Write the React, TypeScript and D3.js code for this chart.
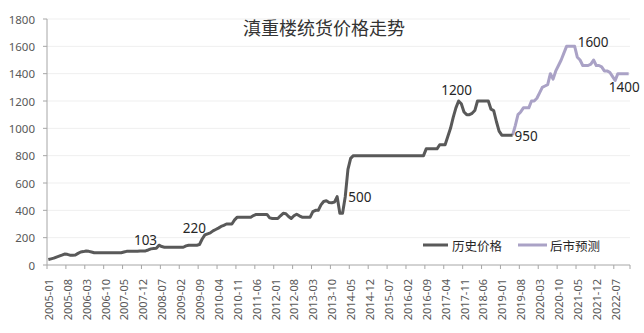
import React from 'react';
import * as d3 from 'd3';

// ---- data ----
const startYear = 2005;
const monthCount = 216; // 2005-01 .. 2022-12

// 历史价格 (2005-01 .. 2019-05)
const history: number[] = [
  40, 45, 50, 58, 65, 72, 80, 78, 72, 72, 73, 85, 95, 98, 102, 100, 95, 90,
  90, 90, 90, 90, 90, 90, 90, 90, 90, 90,
  95,
  100, 100, 100, 100, 100,
  103, 103, 103,
  110, 118, 120, 122, 145, 135,
  130, 130, 130, 130, 130, 130, 130, 130,
  140,
  145, 145, 145, 145,
  150,
  190, 220, 228, 235, 250, 260, 270, 282, 290, 300, 300, 300,
  330, 350, 350, 350, 350, 350, 350,
  362, 370, 370, 370, 370, 370,
  345, 340, 340, 340,
  360, 378, 375, 355, 340, 360, 372, 360,
  350, 350, 350, 350,
  390, 400, 400, 440, 465, 470, 458, 455, 460, 500, 378, 378,
  500, 700, 780,
  800, 800, 800, 800, 800, 800, 800, 800, 800, 800, 800, 800, 800, 800,
  800, 800, 800, 800, 800, 800, 800, 800, 800, 800, 800, 800, 800,
  850, 850, 850, 850, 850,
  880, 880, 880,
  940, 1000, 1080, 1150, 1200,
  1180, 1120, 1100, 1100, 1110, 1130,
  1200, 1200, 1200, 1200, 1200,
  1140, 1130, 1050, 980,
  950, 950, 950, 950, 950,
];

// 后市预测 (2019-05 .. 2022-12)
const forecastStart = 172;
const forecast: number[] = [
  950, 1020, 1100, 1120, 1150, 1150, 1150, 1200, 1200, 1220, 1260, 1300,
  1310, 1320, 1400, 1360, 1420, 1460, 1500, 1550, 1600, 1600, 1600, 1600,
  1520, 1500, 1460, 1460, 1460, 1470, 1500, 1460, 1460, 1450, 1420, 1420,
  1410, 1380, 1350, 1400, 1400, 1400, 1400, 1400,
];

const yTicks = [0, 200, 400, 600, 800, 1000, 1200, 1400, 1600, 1800];
const xTickLabels = [
  '2005-01', '2005-08', '2006-03', '2006-10', '2007-05', '2007-12', '2008-07',
  '2009-02', '2009-09', '2010-04', '2010-11', '2011-06', '2012-01', '2012-08',
  '2013-03', '2013-10', '2014-05', '2014-12', '2015-07', '2016-02', '2016-09',
  '2017-04', '2017-11', '2018-06', '2019-01', '2019-08', '2020-03', '2020-10',
  '2021-05', '2021-12', '2022-07',
];

const pointLabels = [
  { i: 36, text: '103' },
  { i: 58, text: '220' },
  { i: 110, text: '500' },
  { i: 152, text: '1200' },
  { i: 172, text: '950' },
  { i: 195, text: '1600' },
  { i: 213, text: '1400' },
];

const title = '滇重楼统货价格走势';
const legendNames = ['历史价格', '后市预测'];

// ---- layout / style ----
const W = 644;
const H = 333;
const left = 47;
const right = 630;
const top = 19;
const bottom = 265;
const histColor = '#595959';
const foreColor = '#aaa2c6';
const axisColor = '#a6a6a6';
const textColor = '#595959';
const numFont = "'Noto Sans', 'DejaVu Sans', sans-serif";
const cjkFont = "'Noto Sans CJK SC', sans-serif";

const labelPlacement: Record<string, { dx: number; dy: number; anchor: string }> = {
  '103': { dx: 0, dy: -11, anchor: 'middle' },
  '220': { dx: 1, dy: -7, anchor: 'end' },
  '500': { dx: 3, dy: 0, anchor: 'start' },
  '1200': { dx: -2, dy: -11, anchor: 'middle' },
  '950': { dx: 2, dy: 1, anchor: 'start' },
  '1600': { dx: 3, dy: -4, anchor: 'start' },
  '1400': { dx: 1, dy: 13, anchor: 'middle' },
};

export default function App() {
  const categories = d3.range(monthCount).map((i) => {
    const yy = startYear + Math.floor(i / 12);
    const mm = (i % 12) + 1;
    return `${yy}-${String(mm).padStart(2, '0')}`;
  });
  const x = d3.scaleBand<string>().domain(categories).range([left, right]).padding(0);
  const cx = (i: number) => (x(categories[i]) as number) + x.bandwidth() / 2;
  const y = d3.scaleLinear().domain([0, 1800]).range([bottom, top]);

  const line = d3
    .line<[number, number]>()
    .x((d) => cx(d[0]))
    .y((d) => y(d[1]));

  const histPts: [number, number][] = history.map((v, i) => [i, v]);
  const forePts: [number, number][] = forecast.map((v, k) => [forecastStart + k, v]);
  const allVal = (i: number) => (i >= forecastStart ? forecast[i - forecastStart] : history[i]);

  const tickIdx = xTickLabels.map((lab) => categories.indexOf(lab));
  const tickLines = [...tickIdx.map((i) => x(categories[i]) as number), right];

  return (
    <svg
      width={W}
      height={H}
      style={{ position: 'absolute', left: 0, top: 0, background: '#fff' }}
    >
      <rect x={0} y={0} width={W} height={H} fill="#fff" />
      {/* gridlines */}
      {yTicks.slice(1).map((t) => (
        <line key={t} x1={left} x2={right} y1={y(t)} y2={y(t)} stroke="#efefef" strokeWidth={1} />
      ))}
      {/* y axis */}
      <line x1={left} x2={left} y1={top} y2={bottom} stroke={axisColor} />
      {yTicks.map((t) => (
        <g key={t}>
          <line x1={left - 4} x2={left} y1={y(t)} y2={y(t)} stroke={axisColor} />
          <text
            x={35}
            y={y(t)}
            textAnchor="end"
            dominantBaseline="central"
            fontFamily={numFont}
            fontSize={11.5}
            fill={textColor}
          >
            {t}
          </text>
        </g>
      ))}
      {/* x axis */}
      <line x1={left} x2={right} y1={bottom} y2={bottom} stroke={axisColor} />
      {tickLines.map((tx, k) => (
        <line key={k} x1={tx} x2={tx} y1={bottom} y2={bottom + 4} stroke={axisColor} />
      ))}
      {xTickLabels.map((lab, k) => {
        const px = cx(tickIdx[k]);
        const py = 279;
        return (
          <text
            key={lab}
            transform={`translate(${px},${py}) rotate(-90)`}
            textAnchor="end"
            dominantBaseline="central"
            fontFamily={numFont}
            fontSize={11}
            fill={textColor}
          >
            {lab}
          </text>
        );
      })}
      {/* lines */}
      <path d={line(forePts) || ''} fill="none" stroke={foreColor} strokeWidth={3} strokeLinejoin="round" />
      <path d={line(histPts) || ''} fill="none" stroke={histColor} strokeWidth={3} strokeLinejoin="round" />
      {/* point labels */}
      {pointLabels.map((p) => {
        const pl = labelPlacement[p.text];
        return (
          <text
            key={p.text}
            x={cx(p.i) + pl.dx}
            y={y(allVal(p.i)) + pl.dy}
            textAnchor={pl.anchor as any}
            dominantBaseline="central"
            fontFamily={numFont}
            fontSize={13.5}
            fill="#262626"
          >
            {p.text}
          </text>
        );
      })}
      {/* title */}
      <text
        x={324}
        y={27}
        textAnchor="middle"
        dominantBaseline="central"
        fontFamily={cjkFont}
        fontSize={18}
        fill="#333"
      >
        {title}
      </text>
      {/* legend */}
      <g fontFamily={cjkFont} fontSize={12.5} fill="#262626">
        <line x1={423} x2={448} y1={245} y2={245} stroke={histColor} strokeWidth={3} />
        <text x={452} y={245} dominantBaseline="central">{legendNames[0]}</text>
        <line x1={518} x2={547} y1={245} y2={245} stroke={foreColor} strokeWidth={3} />
        <text x={550} y={245} dominantBaseline="central">{legendNames[1]}</text>
      </g>
    </svg>
  );
}
